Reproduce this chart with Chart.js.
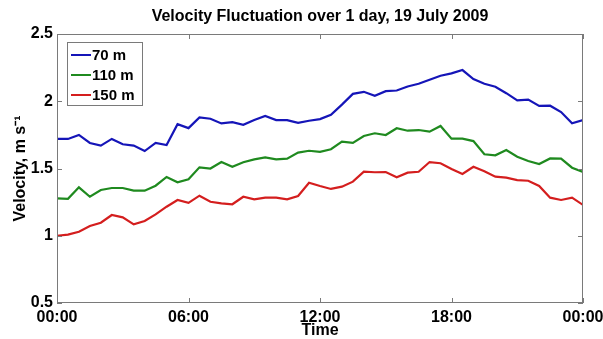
<!DOCTYPE html>
<html>
<head>
<meta charset="utf-8">
<script src="https://cdn.jsdelivr.net/npm/chart.js@4.4.0/dist/chart.umd.min.js"></script>
<style>
  html, body { margin: 0; padding: 0; background: #ffffff; }
  #wrap { width: 603px; height: 339px; position: relative; }
</style>
</head>
<body>
<div id="wrap"><canvas id="c" width="603" height="339"></canvas></div>
<script>
// Half-hourly samples through the day (hours since midnight)
const hours = [0, 0.5, 1, 1.5, 2, 2.5, 3, 3.5, 4, 4.5, 5, 5.5, 6, 6.5, 7, 7.5, 8, 8.5,
  9, 9.5, 10, 10.5, 11, 11.5, 12, 12.5, 13, 13.5, 14, 14.5, 15, 15.5, 16, 16.5,
  17, 17.5, 18, 18.5, 19, 19.5, 20, 20.5, 21, 21.5, 22, 22.5, 23, 23.5, 24];

// Mean velocity (m/s) at each height
const v70m = [1.72, 1.72, 1.75, 1.69, 1.67, 1.72, 1.68, 1.67, 1.63, 1.69, 1.675, 1.83,
  1.80, 1.88, 1.87, 1.835, 1.845, 1.825, 1.86, 1.89, 1.86, 1.86, 1.84, 1.855, 1.867,
  1.90, 1.975, 2.055, 2.07, 2.04, 2.075, 2.08, 2.11, 2.13, 2.16, 2.19, 2.207, 2.232,
  2.165, 2.13, 2.108, 2.06, 2.007, 2.012, 1.965, 1.967, 1.92, 1.836, 1.86];
const v110m = [1.278, 1.275, 1.36, 1.29, 1.34, 1.355, 1.355, 1.335, 1.335, 1.372, 1.437,
  1.397, 1.42, 1.509, 1.50, 1.548, 1.513, 1.546, 1.568, 1.583, 1.568, 1.573, 1.618,
  1.632, 1.624, 1.643, 1.70, 1.69, 1.742, 1.762, 1.749, 1.799, 1.781, 1.786, 1.774,
  1.816, 1.722, 1.722, 1.704, 1.606, 1.598, 1.637, 1.588, 1.556, 1.533, 1.575, 1.573,
  1.506, 1.474];
const v150m = [1.0, 1.008, 1.03, 1.072, 1.097, 1.154, 1.137, 1.085, 1.11, 1.159, 1.216,
  1.266, 1.245, 1.298, 1.253, 1.241, 1.234, 1.29, 1.271, 1.283, 1.283, 1.271, 1.296,
  1.394, 1.37, 1.348, 1.365, 1.402, 1.476, 1.472, 1.474, 1.435, 1.469, 1.476, 1.548,
  1.539, 1.497, 1.459, 1.513, 1.479, 1.439, 1.432, 1.414, 1.409, 1.37, 1.283, 1.266,
  1.283, 1.229];

const seriesLabels = ['70 m', '110 m', '150 m'];
const seriesColors = ['#1515b8', '#1f8a1f', '#d41e1e'];

// Axis tick values and their labels
const xTickValues = [0, 6, 12, 18, 24];
const xTickLabels = ['00:00', '06:00', '12:00', '18:00', '00:00'];
const yTickValues = [0.5, 1, 1.5, 2, 2.5];
const yTickLabels = ['0.5', '1', '1.5', '2', '2.5'];

const chartTitle = 'Velocity Fluctuation over 1 day, 19 July 2009';
const xAxisTitle = 'Time';
const yAxisTitle = 'Velocity, m s\u207B\u00B9';

const FONT = '"Liberation Sans", Arial, sans-serif';
const BOX_COLOR = '#7a7a7a';

function toPoints(vals) {
  return vals.map((v, i) => ({ x: hours[i], y: v }));
}

// Frame, inward tick marks, title and in-plot legend
const framePlugin = {
  id: 'frame',
  afterDraw(chart) {
    const { ctx, chartArea: a, scales } = chart;
    ctx.save();
    ctx.strokeStyle = BOX_COLOR;
    ctx.lineWidth = 1;
    ctx.strokeRect(a.left + 0.5, a.top + 0.5, a.right - a.left - 1, a.bottom - a.top - 1);
    const tl = 5;
    ctx.beginPath();
    xTickValues.forEach(v => {
      const px = Math.round(scales.x.getPixelForValue(v)) + 0.5;
      ctx.moveTo(px, a.bottom); ctx.lineTo(px, a.bottom - tl);
      ctx.moveTo(px, a.top); ctx.lineTo(px, a.top + tl);
    });
    yTickValues.forEach(v => {
      const py = Math.round(scales.y.getPixelForValue(v)) + 0.5;
      ctx.moveTo(a.left, py); ctx.lineTo(a.left + tl, py);
      ctx.moveTo(a.right, py); ctx.lineTo(a.right - tl, py);
    });
    ctx.stroke();

    // title centred over the plot
    ctx.fillStyle = '#000';
    ctx.font = 'bold 16px ' + FONT;
    ctx.textAlign = 'center';
    ctx.textBaseline = 'middle';
    ctx.fillText(chartTitle, (a.left + a.right) / 2, 17);

    // legend box in the upper-left corner
    const lx = a.left + 10.5, ly = a.top + 8.5, lw = 75, lh = 63;
    ctx.fillStyle = '#fff';
    ctx.fillRect(lx, ly, lw, lh);
    ctx.strokeStyle = BOX_COLOR;
    ctx.strokeRect(lx, ly, lw, lh);
    ctx.font = 'bold 15px ' + FONT;
    ctx.textAlign = 'left';
    chart.data.datasets.forEach((ds, i) => {
      const y = a.top + 21 + i * 20;
      ctx.strokeStyle = ds.borderColor;
      ctx.lineWidth = 2;
      ctx.beginPath();
      ctx.moveTo(a.left + 14, y); ctx.lineTo(a.left + 34, y);
      ctx.stroke();
      ctx.fillStyle = '#000';
      ctx.fillText(ds.label, a.left + 35, y + 1);
    });
    ctx.restore();
  }
};

new Chart(document.getElementById('c'), {
  type: 'line',
  data: {
    datasets: [
      { label: seriesLabels[0], data: toPoints(v70m), borderColor: seriesColors[0] },
      { label: seriesLabels[1], data: toPoints(v110m), borderColor: seriesColors[1] },
      { label: seriesLabels[2], data: toPoints(v150m), borderColor: seriesColors[2] }
    ].map(d => Object.assign(d, { borderWidth: 2.2, pointRadius: 0, tension: 0, fill: false }))
  },
  options: {
    responsive: false,
    animation: false,
    devicePixelRatio: 1,
    layout: { padding: { top: 34, right: 20, bottom: 0, left: 0 } },
    plugins: { legend: { display: false }, tooltip: { enabled: false }, title: { display: false } },
    scales: {
      x: {
        type: 'linear',
        min: 0, max: 24,
        afterFit(s) { s.height = 36; s.paddingLeft = 0; s.paddingRight = 0; },
        afterBuildTicks(s) { s.ticks = xTickValues.map(v => ({ value: v })); },
        grid: { display: false, drawTicks: false },
        border: { display: false },
        ticks: {
          padding: 5,
          color: '#000',
          font: { family: FONT, size: 16, weight: 'bold' },
          maxRotation: 0,
          autoSkip: false,
          callback: (v) => xTickLabels[xTickValues.indexOf(v)]
        },
        title: {
          display: true, text: xAxisTitle, color: '#000',
          font: { family: FONT, size: 16, weight: 'bold' },
          padding: { top: 0, bottom: -1 }
        }
      },
      y: {
        type: 'linear',
        min: 0.5, max: 2.5,
        afterFit(s) { s.width = 57; s.paddingTop = 0; s.paddingBottom = 0; },
        afterBuildTicks(s) { s.ticks = yTickValues.map(v => ({ value: v })); },
        grid: { display: false, drawTicks: false },
        border: { display: false },
        ticks: {
          padding: 4,
          color: '#000',
          font: { family: FONT, size: 16, weight: 'bold' },
          autoSkip: false,
          callback: (v) => yTickLabels[yTickValues.indexOf(v)]
        },
        title: {
          display: true, text: yAxisTitle, color: '#000',
          font: { family: FONT, size: 16, weight: 'bold' },
          padding: { top: 11, bottom: 0 }
        }
      }
    }
  },
  plugins: [framePlugin]
});
</script>
</body>
</html>
